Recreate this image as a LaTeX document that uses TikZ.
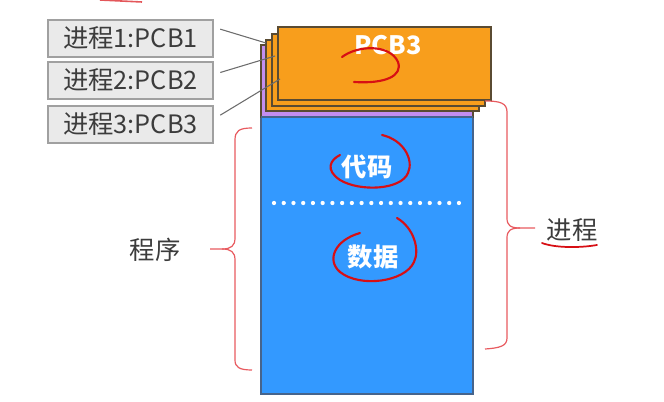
\documentclass[tikz,border=0pt]{standalone}
\usepackage{fontspec}
\setmainfont{Noto Sans CJK SC}
\definecolor{blk}{RGB}{51,153,255}
\definecolor{blkline}{RGB}{70,100,140}
\definecolor{org}{RGB}{248,158,28}
\definecolor{orgline}{RGB}{90,75,50}
\definecolor{pur}{RGB}{196,142,240}
\definecolor{boxfill}{RGB}{234,234,234}
\definecolor{boxline}{RGB}{160,160,160}
\definecolor{txt}{RGB}{60,60,60}
\definecolor{pen}{RGB}{215,15,20}
\definecolor{brace}{RGB}{232,90,95}
\tikzset{
  lbl/.style={draw=boxline, fill=boxfill, line width=0.9pt, minimum width=123.75pt, minimum height=27.75pt, inner sep=0pt, text=txt, font=\fontsize{19pt}{20pt}\selectfont},
  plain/.style={text=txt, font=\fontsize{19pt}{20pt}\selectfont, inner sep=0pt},
  wtxt/.style={text=white, font=\fontsize{19pt}{20pt}\selectfont\bfseries, inner sep=0pt},
  link/.style={draw=gray!85!black, line width=0.8pt},
  ink/.style={draw=pen, line width=1.6pt, line cap=round},
  brc/.style={draw=brace, line width=0.9pt},
  dots/.style={draw=white, line width=3.2pt, line cap=round, dash pattern=on 0pt off 7.3pt}
}
\begin{document}
\begin{tikzpicture}[x=0.75pt,y=-0.75pt]
\useasboundingbox (0,0) rectangle (664,402);
% blue body
\draw[blkline, fill=blk, line width=1pt] (261,117) rectangle (473,394);
% purple strip
\draw[orgline, fill=pur, line width=0.8pt] (261,45) rectangle (473,117);
\draw[blkline, line width=1.5pt] (261,117) -- (473,117);
% orange stack
\draw[orgline, fill=org, line width=0.8pt] (266,40) rectangle (479,111);
\draw[orgline, fill=org, line width=0.8pt] (272,34) rectangle (485,106);
\draw[orgline, fill=org, line width=0.8pt] (278,27) rectangle (491,100);
\node[wtxt] (pcb) at (388,45) {PCB3};
% label boxes
\node[lbl] (l1) at (130.5,38.5) {进程1:PCB1};
\node[lbl] (l2) at (130.5,80.5) {进程2:PCB2};
\node[lbl] (l3) at (130.5,124.5) {进程3:PCB3};
\coordinate (e1) at (266,43);
\coordinate (e2) at (275,56);
\coordinate (e3) at (280,79);
\draw[link] ([xshift=5pt,yshift=7pt]l1.east) -- (e1);
\draw[link] ([xshift=5pt,yshift=6pt]l2.east) -- (e2);
\draw[link] ([xshift=5pt,yshift=7pt]l3.east) -- (e3);
% code / data
\node[wtxt] (code) at (367,167) {代码};
\node[wtxt] (data) at (373,257) {数据};
\coordinate (d1) at (274,203);
\coordinate (d2) at (461,203);
\draw[dots] (d1) -- (d2);
% braces
\node[plain] (prog) at (155,250) {程序};
\node[plain] (proc) at (572,230) {进程};
\draw[brc] (252,128) .. controls (239,128) and (235,131) .. (235,140) -- (235,238) .. controls (235,246) and (231,249) .. (222,249) -- (210,249);
\draw[brc] (222,249) .. controls (231,249) and (235,252) .. (235,260) -- (235,360) .. controls (235,367) and (239,370) .. (252,370);
\draw[brc] (485,101) .. controls (500,101) and (507,103) .. (507,112) -- (507,218) .. controls (507,225) and (510,228) .. (520,228) -- (535,228);
\draw[brc] (520,228) .. controls (510,228) and (507,231) .. (507,238) -- (507,338) .. controls (507,346) and (500,348) .. (485,349);
% red ink annotations
\draw[ink] (342,57) .. controls (358,45) and (390,44) .. (398,62) .. controls (403,76) and (385,84) .. (354,82);
\draw[ink] (382,135) .. controls (404,140) and (414,160) .. (408,173) .. controls (401,190) and (360,192) .. (340,180) .. controls (325,170) and (330,160) .. (340,155);
\draw[ink] (397,218) .. controls (414,228) and (420,250) .. (414,262) .. controls (405,282) and (360,288) .. (340,272) .. controls (326,260) and (335,240) .. (360,233);
\draw[ink, line width=1.3pt] (542,243) .. controls (555,248) and (580,248) .. (597,245);
\draw[draw=pen!70, line width=1.2pt] (100,0) -- (142,2);
\end{tikzpicture}
\end{document}
